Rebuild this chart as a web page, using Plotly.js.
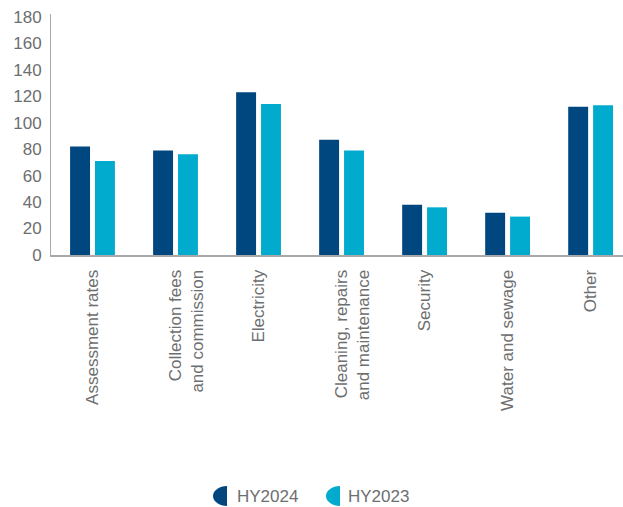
<!DOCTYPE html>
<html>
<head>
<meta charset="utf-8">
<script src="https://cdn.plot.ly/plotly-3.0.1.min.js"></script>
<style>html,body{margin:0;padding:0;background:#fff;}#chart{width:623px;height:507px;}</style>
</head>
<body>
<div id="chart"></div>
<script>
const categories = ["Assessment rates", "Collection fees<br>and commission", "Electricity", "Cleaning, repairs<br>and maintenance", "Security", "Water and sewage", "Other"];
const hy2024 = [82, 79, 123, 87, 38, 32, 112];
const hy2023 = [71, 76, 114, 79, 36, 29, 113];
const seriesNames = ["HY2024", "HY2023"];
const colors = ["#00467f", "#00abce"];
const yTicks = [0, 20, 40, 60, 80, 100, 120, 140, 160, 180];

const font = "Liberation Sans, Arial, Helvetica, sans-serif";
const grey = "#6d6e70";

// every label gets two lines so the first line sits on the tick, as in the reference
const tickText = categories.map(c => c.indexOf("<br>") >= 0 ? c : c + "<br> ");

const traces = [hy2024, hy2023].map((vals, i) => ({
  type: "bar",
  name: seriesNames[i],
  x: categories,
  y: vals,
  marker: {color: colors[i]},
  showlegend: false,
  hoverinfo: "skip"
}));

const legendTextX = [0.3225, 0.5165];
const legendSymX = [0.3077, 0.5052];

const annotations = seriesNames.map((n, i) => ({
  xref: "paper", yref: "paper",
  x: legendTextX[i], y: -1.0,
  xanchor: "left", yanchor: "middle",
  showarrow: false,
  text: n,
  font: {family: font, size: 17, color: grey}
}));

// half-ellipse legend marker (left half), drawn with cubic curves
const halfEllipse = "M0,-10 C-7.73,-10 -14,-5.52 -14,0 C-14,5.52 -7.73,10 0,10 Z";

const shapes = seriesNames.map((n, i) => ({
  type: "path",
  xref: "paper", yref: "paper",
  xsizemode: "pixel", ysizemode: "pixel",
  xanchor: legendSymX[i], yanchor: -1.0,
  path: halfEllipse,
  fillcolor: colors[i],
  line: {width: 0}
}));

const layout = {
  width: 623, height: 507,
  margin: {l: 51, r: 0, t: 14, b: 252},
  paper_bgcolor: "#fff", plot_bgcolor: "#fff",
  barmode: "group",
  bargap: 0.4,
  bargroupgap: 0.2,
  font: {family: font, size: 17, color: grey},
  xaxis: {
    type: "category",
    range: [-0.5, 6.39],
    tickangle: -90,
    tickmode: "array",
    tickvals: categories,
    ticktext: tickText,
    ticklabelshift: 11,
    showline: true, linecolor: "#a7a9ac", linewidth: 2,
    ticks: "", showgrid: false, zeroline: false,
    tickfont: {family: font, size: 17, color: grey},
    ticklabelstandoff: 6,
    automargin: false, fixedrange: true
  },
  yaxis: {
    range: [0, 182],
    tickvals: yTicks,
    showline: true, linecolor: "#a7a9ac", linewidth: 1,
    ticks: "", showgrid: false, zeroline: false,
    tickfont: {family: font, size: 17, color: grey},
    ticklabelstandoff: 5,
    automargin: false, fixedrange: true
  },
  annotations: annotations,
  shapes: shapes
};

Plotly.newPlot("chart", traces, layout, {displayModeBar: false, staticPlot: true});
</script>
</body>
</html>
